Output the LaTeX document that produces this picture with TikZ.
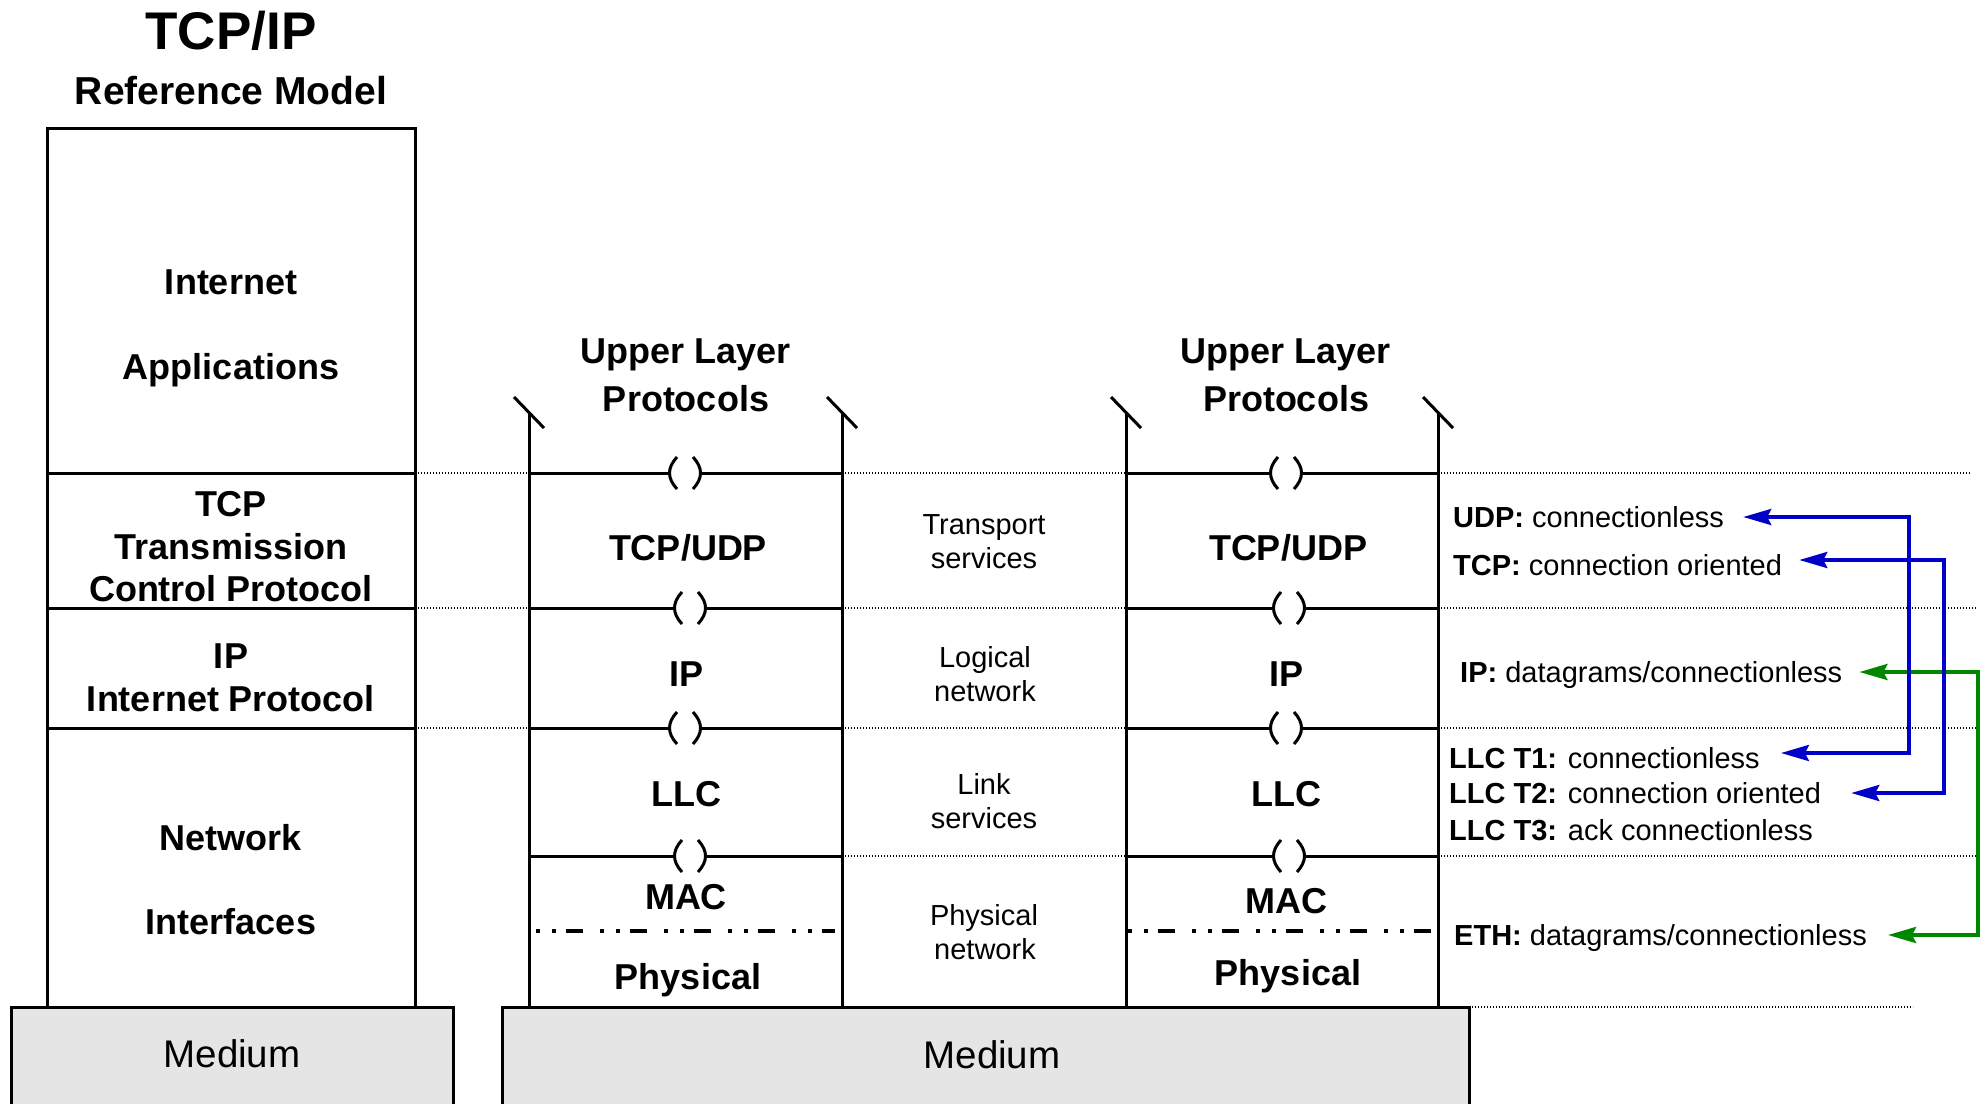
\documentclass[tikz,border=0pt]{standalone}
\usepackage{fontspec}
\setmainfont{Liberation Sans}
\usetikzlibrary{arrows.meta}
\definecolor{myblue}{rgb}{0,0,0.78}
\definecolor{mygreen}{rgb}{0,0.53,0}
\definecolor{mymedium}{rgb}{0.9,0.9,0.9}

\begin{document}
\begin{tikzpicture}[x=1pt,y=-1pt,
  layer/.style={line width=3pt},
  sep/.style={line width=1.2pt,dash pattern=on 1.4pt off 1.6pt},
  macphy/.style={line width=3.2pt,dash pattern=on 3.5pt off 12.5pt on 3.5pt off 10pt on 17pt off 17.5pt},
  lname/.style={font=\bfseries\fontsize{36}{40}\selectfont,inner sep=0pt,text height=25.8pt,text depth=0pt},
  svc/.style={font=\fontsize{29}{33}\selectfont,inner sep=0pt,text height=20.8pt,text depth=0pt},
  mode/.style={svc,anchor=west},
  link/.style={line width=3.8pt,<->,>={Stealth[length=28pt,width=16pt,inset=4pt]}}]
  \useasboundingbox (0,0) rectangle (1986,1103);
  \clip (0,0) rectangle (1986,1103);
  \node[lname,font=\bfseries\fontsize{53}{57}\selectfont,text height=38pt] (title) at (231,30) {TCP/IP};
  \node[lname,font=\bfseries\fontsize{39}{43}\selectfont,text height=27.9pt] (refmodel) at (231,91) {Reference Model};

  % reference model column
  \draw[layer] (47,128) rectangle (415,1007);
  \foreach \dy in {473,608,728} \draw[layer] (47,\dy) -- (415,\dy);
  \node[lname] (inet) at (231,282) {Internet};
  \node[lname] (apps) at (231,367) {Applications};
  \node[lname] (tcpa) at (231,504) {TCP};
  \node[lname] (tcpb) at (231,547) {Transmission};
  \node[lname] (tcpc) at (231,589) {Control Protocol};
  \node[lname] (ipa) at (231,656) {IP};
  \node[lname] (ipb) at (231,699) {Internet Protocol};
  \node[lname] (neta) at (231,838) {Network};
  \node[lname] (netb) at (231,922) {Interfaces};

  % media
  \filldraw[layer,fill=mymedium] (11,1007) rectangle (453,1120);
  \filldraw[layer,fill=mymedium] (502,1007) rectangle (1469,1120);
  \node[lname,font=\fontsize{38.5}{42}\selectfont,text height=27.6pt] (meda) at (232,1054) {Medium};
  \node[lname,font=\fontsize{38.5}{42}\selectfont,text height=27.6pt] (medb) at (992,1055) {Medium};

  % dotted separators
  \foreach \dy in {473,608,728} \draw[sep] (415,\dy) -- (529,\dy);
  \foreach \dy/\dx in {473/1970,608/1976,728/1976,856/1976} {
    \draw[sep] (842,\dy) -- (1126,\dy);
    \draw[sep] (1438,\dy) -- (\dx,\dy);}
  \draw[sep] (1469,1007) -- (1913,1007);

  % the two stacks
  \foreach \sx in {529,842,1126,1438} {
    \draw[layer] (\sx,412) -- (\sx,1007);
    \draw[layer] (\sx-15,397) -- (\sx+15,428);}
  \foreach \cx/\cy/\sl/\sr in {685/473/529/842,690/608/529/842,685/728/529/842,690/856/529/842,
                               1286/473/1126/1438,1289/608/1126/1438,1286/728/1126/1438,1289/856/1126/1438} {
    \draw[layer] (\sl,\cy) -- (\cx-15.5,\cy);
    \draw[layer] (\cx+15.5,\cy) -- (\sr,\cy);
    \draw[layer] (\cx-8,\cy-16) .. controls (\cx-18,\cy-5) and (\cx-18,\cy+5) .. (\cx-8,\cy+16);
    \draw[layer] (\cx+8,\cy-16) .. controls (\cx+18,\cy-5) and (\cx+18,\cy+5) .. (\cx+8,\cy+16);}
  \draw[macphy] (536,931) -- (835,931);
  \draw[macphy] (1128,931) -- (1432,931);

  \foreach \n/\cx/\my/\py in {1/686/897/977,2/1286/901/973} {
    \node[lname] (upper\n) at (\cx,351) {Upper Layer};
    \node[lname] (proto\n) at (\cx,399) {Protocols};
    \node[lname] (tcpudp\n) at (\cx+2,548) {TCP/UDP};
    \node[lname] (ip\n) at (\cx,674) {IP};
    \node[lname] (llc\n) at (\cx,794) {LLC};
    \node[lname] (mac\n) at (\cx,\my) {MAC};
    \node[lname] (phy\n) at (\cx+2,\py) {Physical};}

  % services between the stacks
  \node[svc] (transp) at (984,524) {Transport};
  \node[svc] (transpb) at (984,558) {services};
  \node[svc] (logic) at (985,657) {Logical};
  \node[svc] (logicb) at (985,691) {network};
  \node[svc] (linksv) at (984,784) {Link};
  \node[svc] (linksvb) at (984,818) {services};
  \node[svc] (physnet) at (984,915) {Physical};
  \node[svc] (physnetb) at (985,949) {network};

  % service modes
  \node[mode] (udp) at (1453,517) {\textbf{UDP:} connectionless};
  \node[mode] (tcp) at (1453,565) {\textbf{TCP:} connection oriented};
  \node[mode] (ipm) at (1460,672) {\textbf{IP:} datagrams/connectionless};
  \node[mode] (llct1) at (1449,758) {\textbf{LLC T1:} connectionless};
  \node[mode] (llct2) at (1449,793) {\textbf{LLC T2:} connection oriented};
  \node[mode] (llct3) at (1449,830) {\textbf{LLC T3:} ack connectionless};
  \node[mode] (eth) at (1454,935) {\textbf{ETH:} datagrams/connectionless};

  \coordinate (udptip) at ([xshift=19pt]udp.east);
  \coordinate (tcptip) at ([xshift=17pt,yshift=5pt]tcp.east);
  \coordinate (iptip) at ([xshift=17pt]ipm.east);
  \coordinate (t1tip) at ([xshift=21pt,yshift=5pt]llct1.east);
  \coordinate (t2tip) at ([xshift=30pt]llct2.east);
  \coordinate (ethtip) at ([xshift=21pt]eth.east);
  \coordinate (vudp) at (1909,0);
  \coordinate (vtcp) at (1944,0);
  \coordinate (vip) at (1978,0);
  \draw[link,mygreen] (iptip) -- (iptip -| vip) |- (ethtip);
  \draw[link,myblue] (udptip) -- (udptip -| vudp) |- (t1tip);
  \draw[link,myblue] (tcptip) -- (tcptip -| vtcp) |- (t2tip);
\end{tikzpicture}
\end{document}
